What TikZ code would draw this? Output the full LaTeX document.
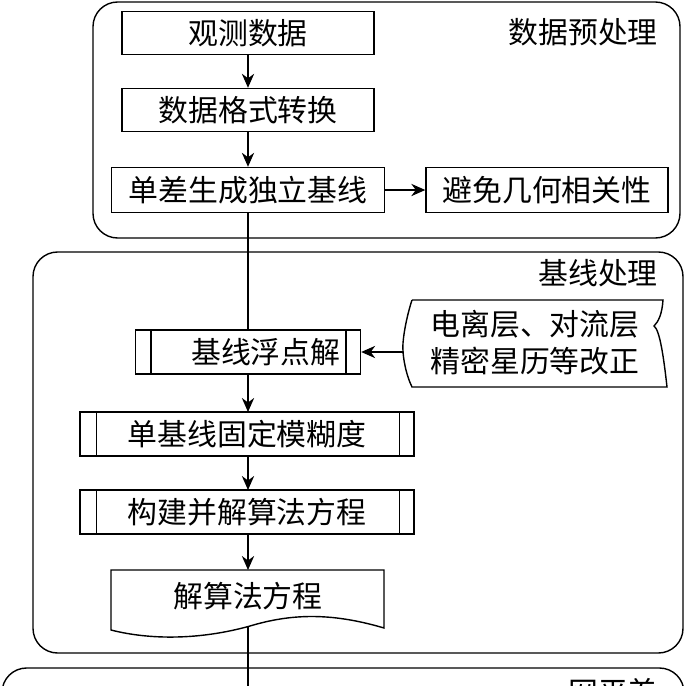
\documentclass[tikz,border=0pt]{standalone}
\usepackage{fontspec}
\setmainfont{Noto Sans CJK SC}
\usetikzlibrary{arrows.meta, positioning, calc}
\tikzset{
    stepbox/.style={
        rectangle,
        draw=black,
        thick,
        inner sep=0pt,
        fill=white,
        font=\fontsize{17}{19}\selectfont
    },
    flow/.style={
        draw=black,
        thick,
        -{Stealth[length=8pt, width=7pt]}
    },
    group/.style={
        draw=black,
        thick,
        rounded corners=14pt
    },
    grouplabel/.style={
        font=\fontsize{17}{19}\selectfont,
        anchor=east
    }
}
\begin{document}
\begin{tikzpicture}[x=0.02cm, y=-0.02cm]
\useasboundingbox (0,0) rectangle (686,686);
\clip (0,0) rectangle (686,686);

% Groups
\draw[group] (93,2) rectangle (680,238);
\node[grouplabel] (g_pre) at (664,32) {数据预处理};
\draw[group] (33,252) rectangle (683,653);
\node[grouplabel] (g_base) at (664,273) {基线处理};
\draw[group] (2,668) rectangle (684,720);
\node[grouplabel] (g_net) at (664,692) {网平差};

% Data preprocessing
\node[stepbox, minimum width=5.04cm, minimum height=0.86cm] (obs) at (248,33) {观测数据};
\node[stepbox, minimum width=5.04cm, minimum height=0.86cm] (conv) at (248,110) {数据格式转换};
\node[stepbox, minimum width=5.46cm, minimum height=0.9cm] (sd) at (248,190) {单差生成独立基线};
\node[stepbox, minimum width=4.84cm, minimum height=0.9cm] (avoid) at (547,190) {避免几何相关性};

% Baseline processing
\node[stepbox, minimum width=4.5cm, minimum height=0.88cm] (float) at (248,352) {\hspace*{1.2em}基线浮点解};
\draw[thick] ($(float.north west)+(16,0)$) -- ($(float.south west)+(16,0)$);
\draw[thick] ($(float.north east)+(-15,0)$) -- ($(float.south east)+(-15,0)$);
\node[stepbox, minimum width=6.68cm, minimum height=0.88cm] (fix) at (247,434) {单基线固定模糊度};
\draw[thick] ($(fix.north west)+(17,0)$) -- ($(fix.south west)+(17,0)$);
\draw[thick] ($(fix.north east)+(-15,0)$) -- ($(fix.south east)+(-15,0)$);
\node[stepbox, minimum width=6.68cm, minimum height=0.88cm] (build) at (247,512) {构建并解算法方程};
\draw[thick] ($(build.north west)+(17,0)$) -- ($(build.south west)+(17,0)$);
\draw[thick] ($(build.north east)+(-15,0)$) -- ($(build.south east)+(-15,0)$);

% Document shape
\draw[thick, fill=white] (111,570) -- (384,570) -- (384,628)
  .. controls (330,612) and (290,614) .. (250,626)
  .. controls (200,640) and (150,640) .. (111,630) -- cycle;
\node[font=\fontsize{17}{19}\selectfont] (solve) at (248,596) {解算法方程};

% Correction shape
\draw[thick, fill=white] (412,300) -- (663,300)
  .. controls (662,315) and (658,322) .. (654,326)
  .. controls (660,330) and (664,360) .. (667,387)
  -- (412,387)
  .. controls (406,375) and (402,355) .. (403,343)
  .. controls (404,330) and (408,312) .. (412,300);
\node[font=\fontsize{17}{21}\selectfont, align=left] (corr) at (535,343) {电离层、对流层\\精密星历等改正};
\coordinate (corr_w) at (403,352);

% Connections
\draw[flow] (obs) -- (conv);
\draw[flow] (conv) -- (sd);
\draw[flow] (sd) -- (avoid);
\draw[thick] (sd) -- (float);
\draw[flow] (corr_w) -- (float);
\draw[flow] (float.south) -- (248,412);
\draw[flow] (fix.south -| float.south) -- (248,490);
\draw[flow] (build.south -| float.south) -- (248,570);
\coordinate (bottom_end) at (248,700);
\draw[thick] (248,626) -- (bottom_end);
\end{tikzpicture}
\end{document}
